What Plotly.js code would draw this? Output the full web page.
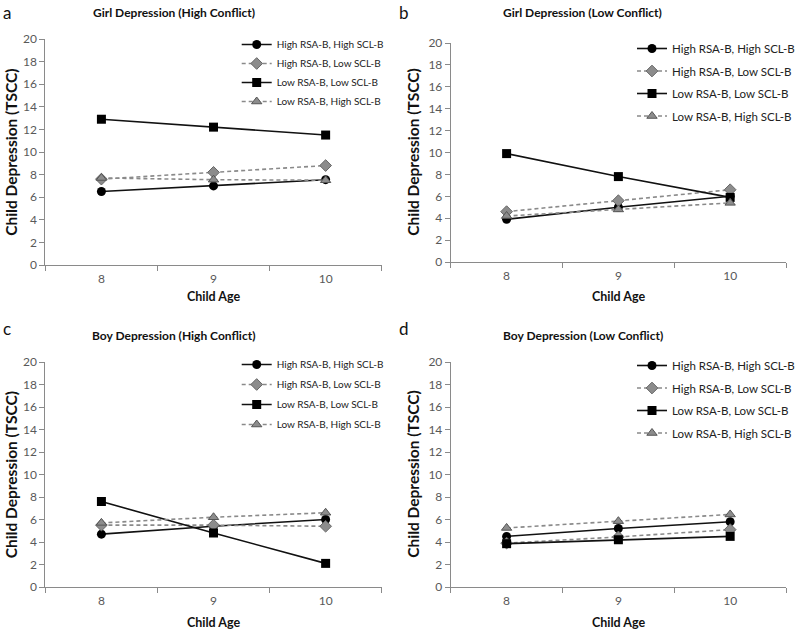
<!DOCTYPE html>
<html>
<head>
<meta charset="utf-8">
<script src="https://cdn.plot.ly/plotly-3.0.1.min.js"></script>
<style>
  html, body { margin: 0; padding: 0; background: #fff; }
  #plot { width: 800px; height: 629px; }
</style>
</head>
<body>
<div id="plot"></div>
<script>
// Child age categories on the x axis
const ages = [8, 9, 10];
const groupNames = [
    "High RSA-B, High SCL-B",
    "High RSA-B, Low SCL-B",
    "Low RSA-B, Low SCL-B",
    "Low RSA-B, High SCL-B"
];

// values, one row per group (same order as groupNames)
const girlHighConflict = [
    [6.5, 7.0, 7.55],
    [7.6, 8.2, 8.8],
    [12.9, 12.2, 11.5],
    [7.7, 7.55, 7.5]
];
const girlLowConflict = [
    [3.9, 5.0, 6.0],
    [4.6, 5.6, 6.6],
    [9.9, 7.8, 5.9],
    [4.2, 4.8, 5.4]
];
const boyHighConflict = [
    [4.7, 5.4, 6.0],
    [5.5, 5.5, 5.4],
    [7.6, 4.8, 2.1],
    [5.7, 6.2, 6.6]
];
const boyLowConflict = [
    [4.5, 5.2, 5.8],
    [3.9, 4.45, 5.1],
    [3.85, 4.2, 4.5],
    [5.25, 5.85, 6.45]
];

const panelTitles = [
    "Girl Depression (High Conflict)",
    "Girl Depression (Low Conflict)",
    "Boy Depression (High Conflict)",
    "Boy Depression (Low Conflict)"
];
const panelLetters = ["a", "b", "c", "d"];

const FONT = "Lato, 'Open Sans', sans-serif";
const W = 800, H = 629;

// pixel frame of each panel: [left, right, top (y=20), bottom (y=0)]
const frames = [
    [46, 387, 39, 265],
    [457, 797, 43, 262],
    [46, 387, 362, 587],
    [457, 797, 362, 587]
];

// line / marker look per group
const styles = [
    { line: { color: "#111", width: 1.6 }, marker: { symbol: "circle", size: 9, color: "#000" } },
    { line: { color: "#8a8a8a", width: 1.6, dash: "4px,3px" }, marker: { symbol: "diamond", size: 9, color: "#8c8c8c", line: { color: "#666", width: 1 } } },
    { line: { color: "#111", width: 1.6 }, marker: { symbol: "square", size: 9, color: "#000" } },
    { line: { color: "#8a8a8a", width: 1.6, dash: "4px,3px" }, marker: { symbol: "triangle-up", size: 9, color: "#8c8c8c", line: { color: "#555", width: 1 } } }
];

const panelData = [girlHighConflict, girlLowConflict, boyHighConflict, boyLowConflict];

// legend placement per panel: [x px, y px of top, font size, gap between rows]
const legendPos = [
    [240, 30, 10, 0],
    [641, 34, 11.5, 3.5],
    [240, 350, 10, 1],
    [641, 351, 11.5, 3.5]
];

let traces = [];
let layout = {
    width: W,
    height: H,
    margin: { l: 0, r: 0, t: 0, b: 0 },
    paper_bgcolor: "#fff",
    plot_bgcolor: "#fff",
    font: { family: FONT, color: "#222" },
    annotations: [],
    showlegend: true
};

panelData.forEach((rows, p) => {
    let n = p + 1;
    let xa = n === 1 ? "x" : "x" + n;
    let ya = n === 1 ? "y" : "y" + n;
    let legendId = n === 1 ? "legend" : "legend" + n;
    let f = frames[p];

    rows.forEach((vals, g) => {
        traces.push({
            x: ages,
            y: vals,
            xaxis: xa,
            yaxis: ya,
            type: "scatter",
            mode: "lines+markers",
            name: groupNames[g],
            legend: legendId,
            legendgroup: "p" + n + "g" + g,
            line: styles[g].line,
            marker: styles[g].marker,
            cliponaxis: false
        });
    });

    layout[n === 1 ? "xaxis" : "xaxis" + n] = {
        domain: [f[0] / W, f[1] / W],
        anchor: ya,
        range: [7.5, 10.5],
        tickvals: ages,
        ticks: "",
        ticklabelstandoff: 3,
        showgrid: false,
        zeroline: false,
        showline: true,
        linecolor: "#8a8a8a",
        linewidth: 1,
        tickfont: { size: 12, color: "#595959", family: FONT },
        minor: { tickvals: [7.5, 8.5, 9.5, 10.5], ticks: "outside", ticklen: 5, tickcolor: "#8a8a8a", showgrid: false },
        fixedrange: true
    };
    layout[n === 1 ? "yaxis" : "yaxis" + n] = {
        domain: [1 - f[3] / H, 1 - f[2] / H],
        anchor: xa,
        range: [0, 20],
        dtick: 2,
        ticks: "outside",
        ticklen: 5,
        tickcolor: "#8a8a8a",
        showgrid: false,
        zeroline: false,
        showline: true,
        linecolor: "#8a8a8a",
        linewidth: 1,
        tickfont: { size: 12, color: "#595959", family: FONT },
        fixedrange: true
    };

    let lp = legendPos[p];
    layout[legendId] = {
        x: lp[0] / W,
        y: 1 - lp[1] / H,
        xanchor: "left",
        yanchor: "top",
        bgcolor: "rgba(0,0,0,0)",
        font: { size: lp[2], color: "#222", family: FONT },
        itemwidth: 30,
        traceorder: "grouped",
        tracegroupgap: lp[3]
    };

    let cx = (f[0] + f[1]) / 2;
    let topPad = p < 2 ? 0 : 310;

    // panel letter
    layout.annotations.push({
        text: panelLetters[p], xref: "paper", yref: "paper",
        x: (p % 2 === 0 ? 1 : 403) / W, y: 1 - (topPad + (p < 2 ? 0 : 6)) / H,
        xanchor: "left", yanchor: "top", showarrow: false,
        font: { size: 17, color: "#111", family: FONT }
    });
    // panel title
    layout.annotations.push({
        text: panelTitles[p], xref: "paper", yref: "paper",
        x: (p % 2 === 0 ? 176 : 591) / W, y: 1 - (p < 2 ? 12 : 335) / H,
        xanchor: "center", yanchor: "middle", showarrow: false,
        font: { size: 12, color: "#111", family: FONT, weight: "bold" }
    });
    // x axis title
    layout.annotations.push({
        text: "Child Age", xref: "paper", yref: "paper",
        x: cx / W, y: 1 - (p < 2 ? 296 : 622) / H,
        xanchor: "center", yanchor: "middle", showarrow: false,
        font: { size: 12.5, color: "#111", family: FONT, weight: "bold" }
    });
    // y axis title
    layout.annotations.push({
        text: "Child Depression (TSCC)", xref: "paper", yref: "paper",
        x: (p % 2 === 0 ? 11 : 418) / W, y: 1 - ((f[2] + f[3]) / 2) / H,
        xanchor: "center", yanchor: "middle", showarrow: false, textangle: -90,
        font: { size: 15.5, color: "#111", family: FONT, weight: "bold" }
    });
});

Plotly.newPlot("plot", traces, layout, { displayModeBar: false, staticPlot: true });
</script>
</body>
</html>
